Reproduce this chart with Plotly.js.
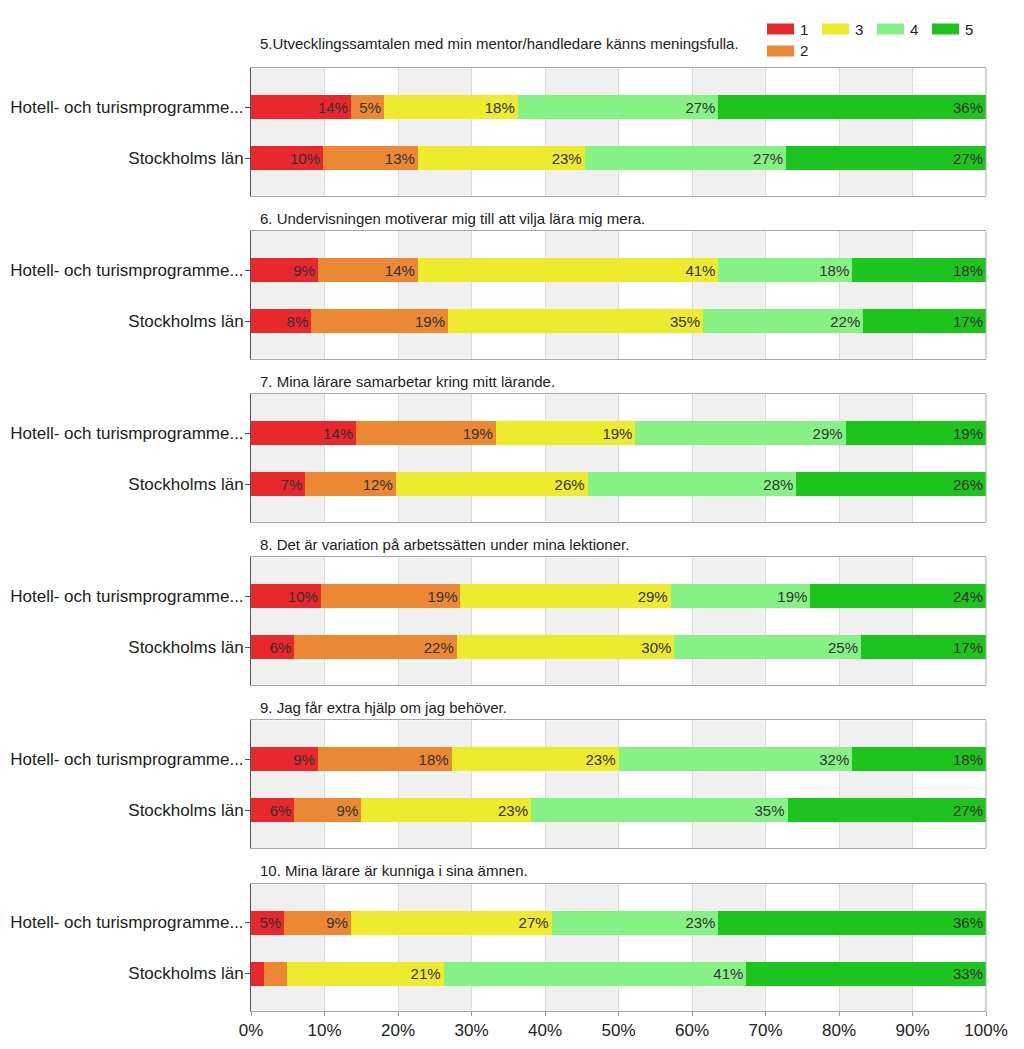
<!DOCTYPE html>
<html><head><meta charset="utf-8">
<script src="https://cdn.plot.ly/plotly-3.0.1.min.js"></script>
<style>html,body{margin:0;padding:0;background:#fff}</style>
</head><body><div id="chart" style="width:1024px;height:1049px"></div>
<script>
// ---- data ----
const questions = [
  '5.Utvecklingssamtalen med min mentor/handledare känns meningsfulla.',
  '6. Undervisningen motiverar mig till att vilja lära mig mera.',
  '7. Mina lärare samarbetar kring mitt lärande.',
  '8. Det är variation på arbetssätten under mina lektioner.',
  '9. Jag får extra hjälp om jag behöver.',
  '10. Mina lärare är kunniga i sina ämnen.'
];
const groups = ['Hotell- och turismprogramme...', 'Stockholms län'];
const levels = ['1', '2', '3', '4', '5'];
const levelColors = ['#e8282c', '#ec8833', '#eeea2e', '#86f286', '#1ec41e'];
// percent per level 1..5, one row per question
const hotell = [
  [13.6, 4.5, 18.2, 27.3, 36.4],
  [9.1, 13.6, 40.9, 18.2, 18.2],
  [14.3, 19.0, 19.0, 28.6, 19.1],
  [9.5, 19.0, 28.6, 19.0, 23.9],
  [9.1, 18.2, 22.7, 31.8, 18.2],
  [4.5, 9.1, 27.3, 22.7, 36.4]
];
const stockholm = [
  [9.8, 12.9, 22.7, 27.4, 27.2],
  [8.2, 18.6, 34.7, 21.8, 16.7],
  [7.4, 12.3, 26.1, 28.4, 25.8],
  [5.9, 22.1, 29.6, 25.4, 17.0],
  [5.9, 9.1, 23.1, 34.9, 27.0],
  [1.8, 3.1, 21.3, 41.2, 32.6]
];
const xTicks = [0, 10, 20, 30, 40, 50, 60, 70, 80, 90, 100];
const xTickLabels = ['0%', '10%', '20%', '30%', '40%', '50%', '60%', '70%', '80%', '90%', '100%'];

// ---- layout ----
const W = 1024, H = 1049, ML = 251, MR = 38, MT = 0, MB = 38;
const plotW = W - ML - MR, plotH = H - MT - MB;
const panelTop0 = 68, panelStep = 163.1, panelH = 127.5;
const FONT = 'Liberation Sans, Arial, Helvetica, sans-serif';

const traces = [];
const shapes = [];
const annotations = [];
const layout = {
  width: W, height: H,
  margin: {l: ML, r: MR, t: MT, b: MB, pad: 0},
  paper_bgcolor: '#ffffff', plot_bgcolor: '#ffffff',
  barmode: 'stack', showlegend: false, hovermode: false,
  font: {family: FONT, color: '#222'}
};

questions.forEach((q, i) => {
  const n = i === 0 ? '' : String(i + 1);
  const top = panelTop0 + panelStep * i, bot = top + panelH;
  const last = i === questions.length - 1;
  layout['xaxis' + n] = {
    domain: [0, 1], anchor: 'y' + n, range: [0, 100], type: 'linear',
    tickvals: xTicks, ticktext: xTickLabels, showticklabels: last,
    ticks: last ? 'outside' : '', ticklen: 4, tickcolor: '#999',
    tickfont: {size: 17, color: '#222', family: FONT},
    showgrid: true, gridcolor: '#dadada', gridwidth: 1, zeroline: false,
    showline: true, mirror: true, linecolor: '#a8a8a8', linewidth: 1, fixedrange: true
  };
  layout['yaxis' + n] = {
    domain: [(plotH - bot) / plotH, (plotH - top) / plotH], anchor: 'x' + n,
    type: 'category', categoryorder: 'array', categoryarray: [groups[1], groups[0]],
    range: [-0.735, 1.765], showline: true, linecolor: '#555', linewidth: 1,
    ticks: 'outside', ticklen: 5, tickcolor: '#555', ticklabelstandoff: -2,
    tickfont: {size: 17, color: '#222', family: FONT},
    showgrid: false, zeroline: false, fixedrange: true
  };
  // alternating background bands
  for (let b = 0; b < 100; b += 20) {
    shapes.push({type: 'rect', xref: 'x' + n, yref: 'y' + n + ' domain', x0: b, x1: b + 10, y0: 0, y1: 1,
      fillcolor: '#f0f0f0', line: {width: 0}, layer: 'below'});
  }
  // right frame edge
  shapes.push({type: 'line', xref: 'x' + n + ' domain', yref: 'y' + n + ' domain', x0: 1, x1: 1, y0: 0, y1: 1,
    line: {color: '#a8a8a8', width: 1}, layer: 'above'});
  // panel title
  annotations.push({xref: 'x' + n + ' domain', yref: 'y' + n + ' domain', x: 0.01,
    y: 1 + (i === 0 ? 25 : 13) / panelH, xanchor: 'left', yanchor: 'middle', showarrow: false,
    text: q, font: {size: 15, color: '#222', family: FONT}});
  levels.forEach((lv, k) => {
    const vals = [hotell[i][k], stockholm[i][k]];
    traces.push({
      type: 'bar', orientation: 'h', x: vals, y: groups,
      xaxis: 'x' + n, yaxis: 'y' + n, name: lv, width: 0.47,
      marker: {color: levelColors[k], line: {width: 0}},
      text: vals.map(v => v < 4 ? '' : Math.round(v) + '%'),
      textposition: 'inside', insidetextanchor: 'end', textangle: 0,
      textfont: {size: 15, color: '#333', family: FONT},
      hoverinfo: 'skip', showlegend: false
    });
  });
});

// custom legend (level swatches) laid out like the original: 1 3 4 5 / 2
levels.forEach((lv, k) => {
  const col = k <= 1 ? 0 : k - 1;
  const row = k === 1 ? 1 : 0;
  const px0 = 767 + 55 * col, px1 = px0 + 27;
  const pyc = 29 + 22 * row;
  const toX = px => (px - ML) / plotW;
  const toY = py => (plotH - (py - MT)) / plotH;
  shapes.push({type: 'rect', xref: 'paper', yref: 'paper', x0: toX(px0), x1: toX(px1),
    y0: toY(pyc + 5.5), y1: toY(pyc - 5.5), fillcolor: levelColors[k], line: {width: 0}});
  annotations.push({xref: 'paper', yref: 'paper', x: toX(px1 + 4), y: toY(pyc),
    xanchor: 'left', yanchor: 'middle', showarrow: false, text: lv,
    font: {size: 15, color: '#222', family: FONT}});
});

layout.shapes = shapes;
layout.annotations = annotations;

Plotly.newPlot('chart', traces, layout, {displayModeBar: false, staticPlot: true});
</script>
</body></html>
